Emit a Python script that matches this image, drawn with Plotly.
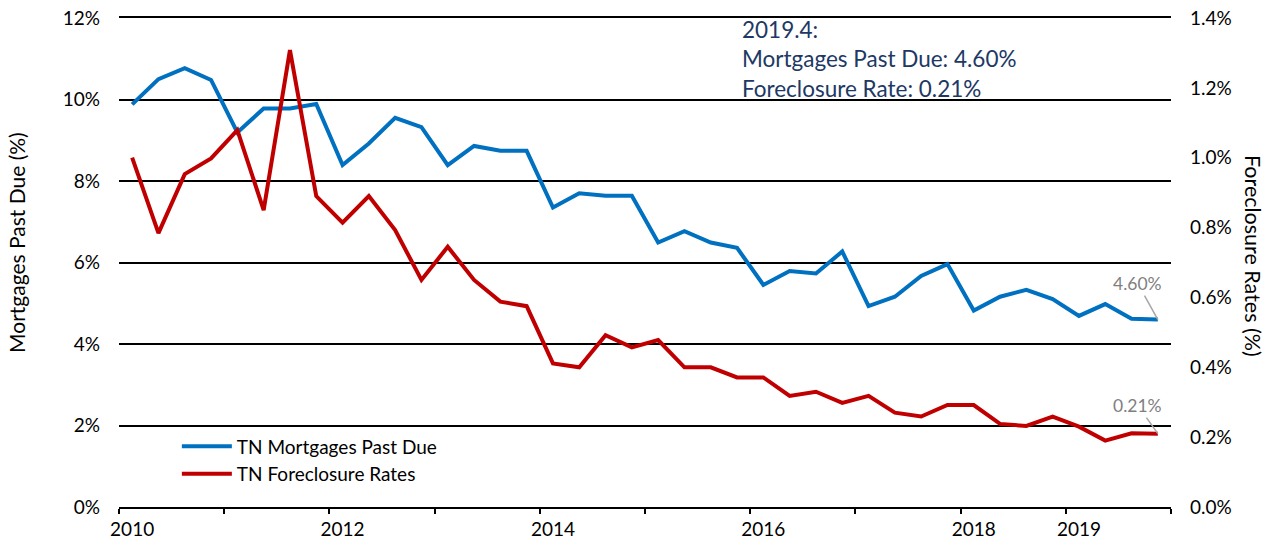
import plotly.graph_objects as go

# quarterly, 2010 Q1 .. 2019 Q4
quarters = [f"{y}.{q}" for y in range(2010, 2020) for q in range(1, 5)]

past_due = [9.88, 10.50, 10.77, 10.48, 9.19, 9.78, 9.78, 9.89,
            8.39, 8.92, 9.55, 9.32, 8.39, 8.86, 8.74, 8.74,
            7.35, 7.70, 7.64, 7.64, 6.49, 6.77, 6.49, 6.36,
            5.45, 5.79, 5.73, 6.27, 4.93, 5.16, 5.67, 5.96,
            4.82, 5.16, 5.33, 5.10, 4.69, 4.98, 4.62, 4.60]

foreclosure = [1.00, 0.784, 0.953, 0.998, 1.079, 0.850, 1.308, 0.890,
               0.814, 0.890, 0.793, 0.650, 0.745, 0.650, 0.588, 0.575,
               0.411, 0.400, 0.492, 0.457, 0.478, 0.400, 0.400, 0.371,
               0.371, 0.318, 0.330, 0.298, 0.318, 0.270, 0.259, 0.292,
               0.292, 0.238, 0.232, 0.259, 0.230, 0.190, 0.211, 0.21]

label_pos = [0, 8, 16, 24, 32, 36]
label_text = ["2010", "2012", "2014", "2016", "2018", "2019"]
tick_bounds = [i - 0.5 for i in range(0, 41, 4)]

font = "Lato, 'Noto Sans', sans-serif"
idx = list(range(len(quarters)))

fig = go.Figure()
fig.add_trace(go.Scatter(x=idx, y=past_due, name="TN Mortgages Past Due",
                         mode="lines", line=dict(color="#0070C0", width=4),
                         text=quarters, hovertemplate="%{text}: %{y:.2f}%<extra></extra>"))
fig.add_trace(go.Scatter(x=idx, y=foreclosure, name="TN Foreclosure Rates",
                         mode="lines", line=dict(color="#C00000", width=4),
                         yaxis="y2", text=quarters,
                         hovertemplate="%{text}: %{y:.2f}%<extra></extra>"))

fig.update_layout(
    width=1273, height=543,
    margin=dict(l=119, r=102, t=18, b=36),
    paper_bgcolor="white", plot_bgcolor="white",
    font=dict(family=font, size=19, color="black"),
    showlegend=True,
    legend=dict(x=0.055, y=0.163, xanchor="left", yanchor="top",
                bgcolor="rgba(0,0,0,0)", font=dict(size=19),
                itemwidth=50, tracegroupgap=0),
    xaxis=dict(range=[-0.5, 39.5], tickmode="array", tickvals=label_pos,
               ticktext=label_text, ticks="", showgrid=False, zeroline=False,
               showline=True, mirror=True, linecolor="black", linewidth=2,
               tickfont=dict(size=19), automargin=False, ticklabelstandoff=4,
               minor=dict(tickmode="array", tickvals=tick_bounds, ticks="outside",
                          ticklen=5, tickwidth=2, tickcolor="black", showgrid=False)),
    xaxis2=dict(range=[-0.5, 39.5], overlaying="x", anchor="y", side="bottom",
                tickmode="array", tickvals=tick_bounds, ticks="inside",
                ticklen=5, tickwidth=2, tickcolor="black", automargin=False,
                showticklabels=False, showgrid=False, zeroline=False, showline=False),
    yaxis=dict(range=[0, 12], dtick=2, ticksuffix="%", tickformat="d",
               showgrid=True, gridcolor="black", gridwidth=2, zeroline=False,
               ticks="", ticklabelstandoff=18, automargin=False),
    yaxis2=dict(range=[0, 1.4], dtick=0.2, ticksuffix="%", tickformat=".1f",
                overlaying="y", side="right", showgrid=False, zeroline=False,
                ticks="", ticklabelstandoff=18, automargin=False),
)

# axis titles, placed where the original has them
fig.add_annotation(x=-0.097, y=0.542, xref="paper", yref="paper", textangle=-90,
                   xanchor="center", yanchor="middle", showarrow=False,
                   text="Mortgages Past Due (%)", font=dict(size=21))
fig.add_annotation(x=1.078, y=0.513, xref="paper", yref="paper", textangle=90,
                   xanchor="center", yanchor="middle", showarrow=False,
                   text="Foreclosure Rates (%)", font=dict(size=21.5))

fig.add_annotation(x=39, y=past_due[-1], xref="x", yref="y",
                   text=f"{past_due[-1]:.2f}%", showarrow=True, arrowhead=0,
                   arrowwidth=1.5, arrowcolor="#A6A6A6", ax=-20, ay=-36,
                   font=dict(size=17.5, color="#7F7F7F"))
fig.add_annotation(x=39, y=foreclosure[-1], xref="x", yref="y2",
                   text=f"{foreclosure[-1]:.2f}%", showarrow=True, arrowhead=0,
                   arrowwidth=1.5, arrowcolor="#A6A6A6", ax=-20, ay=-28,
                   font=dict(size=17.5, color="#7F7F7F"))
fig.add_annotation(x=0.59, y=1.0, xref="paper", yref="paper", yshift=4,
                   xanchor="left", yanchor="top", align="left", showarrow=False,
                   text=(f"2019.4:<br>Mortgages Past Due: {past_due[-1]:.2f}%"
                         f"<br>Foreclosure Rate: {foreclosure[-1]:.2f}%"),
                   font=dict(size=22.5, color="#203864"))

fig.write_html("out.html", config={"displayModeBar": False},
               post_script="document.body.style.margin='0';")
